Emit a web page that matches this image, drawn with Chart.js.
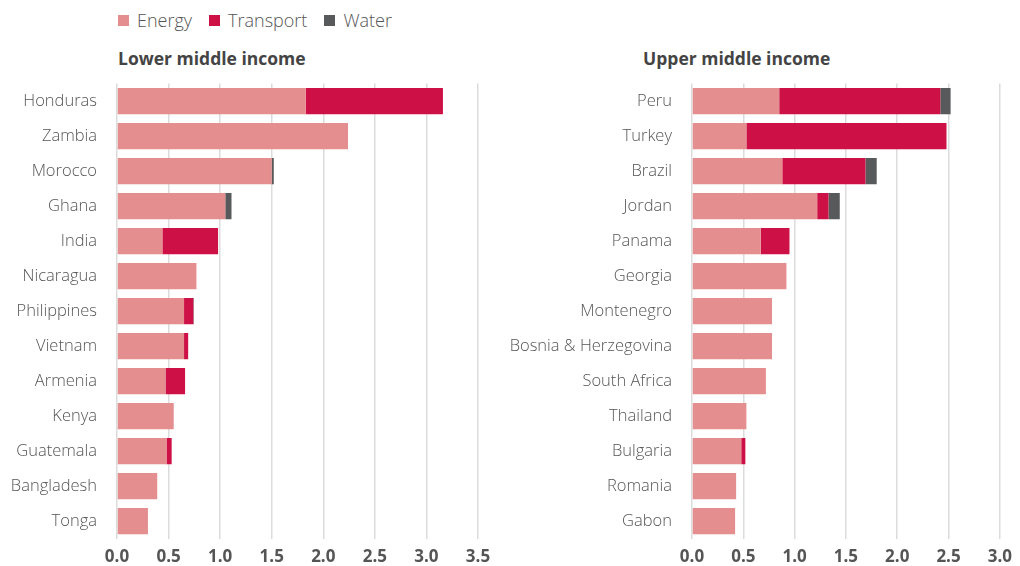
<!DOCTYPE html>
<html>
<head>
<meta charset="utf-8">
<script src="https://cdn.jsdelivr.net/npm/chart.js@4"></script>
<style>
  body { margin: 0; width: 1020px; height: 566px; background: #fff; position: relative; overflow: hidden; font-family: "Open Sans", Lato, sans-serif; }
  .box { position: absolute; }
  .title { position: absolute; top: 46px; font-weight: 700; font-size: 17.5px; color: #444; }
  #legend { position: absolute; left: 118px; top: 8px; display: flex; font-size: 18px; font-weight: 300; color: #555; }
  #legend span.item { display: flex; align-items: center; margin-right: 17px; }
  #legend i { display: inline-block; width: 11px; height: 11px; margin-right: 8px; }
</style>
</head>
<body>
<div id="legend"></div>
<div class="title" style="left:118px">Lower middle income</div>
<div class="title" style="left:643px">Upper middle income</div>
<div class="box" style="left:0;top:80px;width:500px;height:486px"><canvas id="lowerChart"></canvas></div>
<div class="box" style="left:500px;top:80px;width:520px;height:486px"><canvas id="upperChart"></canvas></div>
<script>
// Sector colours and names
const sectors = ['Energy', 'Transport', 'Water'];
const sectorColors = ['#e48e8f', '#cd1146', '#58595b'];

// Lower middle income countries
const lowerCountries = ['Honduras', 'Zambia', 'Morocco', 'Ghana', 'India', 'Nicaragua', 'Philippines',
    'Vietnam', 'Armenia', 'Kenya', 'Guatemala', 'Bangladesh', 'Tonga'];
const lowerEnergy    = [1.83, 2.24, 1.50, 1.05, 0.44, 0.77, 0.65, 0.65, 0.47, 0.55, 0.48, 0.39, 0.30];
const lowerTransport = [1.33, 0, 0, 0, 0.54, 0, 0.09, 0.04, 0.19, 0, 0.05, 0, 0];
const lowerWater     = [0, 0, 0.02, 0.06, 0, 0, 0.005, 0, 0, 0, 0, 0, 0];
const lowerTicks = [0, 0.5, 1, 1.5, 2, 2.5, 3, 3.5];

// Upper middle income countries
const upperCountries = ['Peru', 'Turkey', 'Brazil', 'Jordan', 'Panama', 'Georgia', 'Montenegro',
    'Bosnia & Herzegovina', 'South Africa', 'Thailand', 'Bulgaria', 'Romania', 'Gabon'];
const upperEnergy    = [0.85, 0.53, 0.88, 1.22, 0.67, 0.92, 0.78, 0.78, 0.72, 0.53, 0.48, 0.43, 0.42];
const upperTransport = [1.57, 1.95, 0.81, 0.11, 0.28, 0, 0, 0, 0, 0, 0.04, 0, 0];
const upperWater     = [0.10, 0, 0.11, 0.11, 0, 0, 0, 0, 0, 0, 0, 0, 0];
const upperTicks = [0, 0.5, 1, 1.5, 2, 2.5, 3];

// legend
const legend = document.getElementById('legend');
sectors.forEach((name, i) => {
    const item = document.createElement('span');
    item.className = 'item';
    item.innerHTML = '<i style="background:' + sectorColors[i] + '"></i>' + name;
    legend.appendChild(item);
});

function makeChart(id, countries, series, ticks, axisWidth, padRight) {
    const ctx = document.getElementById(id).getContext('2d');
    const max = ticks[ticks.length - 1];
    return new Chart(ctx, {
        type: 'bar',
        data: {
            labels: countries,
            datasets: series.map((values, i) => ({
                label: sectors[i],
                data: values,
                backgroundColor: sectorColors[i],
                borderWidth: 0,
                barPercentage: 0.75,
                categoryPercentage: 1
            }))
        },
        options: {
            indexAxis: 'y',
            responsive: true,
            maintainAspectRatio: false,
            animation: false,
            layout: { padding: { top: 3.5, right: padRight, left: 0, bottom: 0 } },
            plugins: { legend: { display: false }, tooltip: { enabled: false } },
            scales: {
                x: {
                    stacked: true,
                    min: 0,
                    max: max,
                    afterBuildTicks: scale => { scale.ticks = ticks.map(v => ({ value: v })); },
                    grid: { color: '#dcdcdc', lineWidth: 1.5, drawTicks: false },
                    border: { display: false },
                    ticks: {
                        padding: 8,
                        color: '#555',
                        font: { family: 'Open Sans', size: 17, weight: 'bold' },
                        callback: v => Number(v).toFixed(1)
                    },
                    afterFit: scale => { scale.height = 27.5; }
                },
                y: {
                    stacked: true,
                    grid: { display: false },
                    border: { display: false },
                    ticks: {
                        padding: 12,
                        color: '#555',
                        font: { family: 'Open Sans', size: 16.5, weight: 300 }
                    },
                    afterFit: scale => {
                        scale.width = axisWidth;
                        scale.paddingTop = 0;
                        scale.paddingBottom = 0;
                    }
                }
            }
        }
    });
}

makeChart('lowerChart', lowerCountries, [lowerEnergy, lowerTransport, lowerWater], lowerTicks, 117, 22);
makeChart('upperChart', upperCountries, [upperEnergy, upperTransport, upperWater], upperTicks, 192, 19);
</script>
</body>
</html>
